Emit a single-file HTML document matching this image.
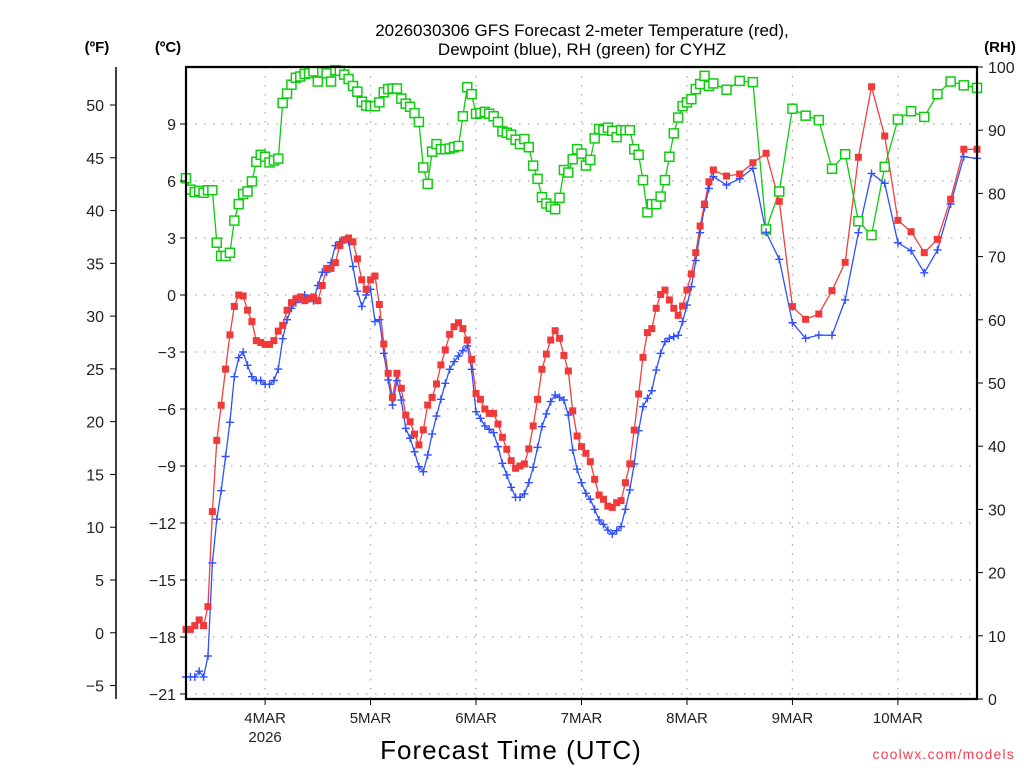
<!DOCTYPE html>
<html><head><meta charset="utf-8"><title>GFS Forecast CYHZ</title>
<style>
html,body{margin:0;padding:0;background:#fff;}
svg{display:block;font-family:"Liberation Sans","DejaVu Sans",sans-serif;}
</style></head>
<body>
<svg id="chart" width="1024" height="768" viewBox="0 0 1024 768" xmlns="http://www.w3.org/2000/svg">
<g id="grid"></g>
<g id="series"></g>
<g id="axes"></g>
<text x="582" y="36" text-anchor="middle" font-size="17" fill="#000">2026030306 GFS Forecast 2-meter Temperature (red),</text>
<text x="582" y="55" text-anchor="middle" font-size="17" fill="#000">Dewpoint (blue), RH (green) for CYHZ</text>
<text x="97" y="52" text-anchor="middle" font-size="15" font-weight="bold">(ºF)</text>
<text x="168" y="52" text-anchor="middle" font-size="15" font-weight="bold">(ºC)</text>
<text x="1000" y="52" text-anchor="middle" font-size="15" font-weight="bold">(RH)</text>
<text x="511" y="759" text-anchor="middle" font-size="26" letter-spacing="1">Forecast Time (UTC)</text>
<text x="1015" y="759" text-anchor="end" font-size="14" fill="#f04050" letter-spacing="1.2">coolwx.com/models</text>
</svg>
<script>
// hours since 2026-03-03 06Z
const hours = [0,1,2,3,4,5,6,7,8,9,10,11,12,13,14,15,16,17,18,19,20,21,22,23,24,25,26,27,28,29,30,31,32,33,34,35,36,37,38,39,40,41,42,43,44,45,46,47,48,49,50,51,52,53,54,55,56,57,58,59,60,61,62,63,64,65,66,67,68,69,70,71,72,73,74,75,76,77,78,79,80,81,82,83,84,85,86,87,88,89,90,91,92,93,94,95,96,97,98,99,100,101,102,103,104,105,106,107,108,109,110,111,112,113,114,115,116,117,118,119,120,123,126,129,132,135,138,141,144,147,150,153,156,159,162,165,168,171,174,177,180];
const tempC = [-17.6,-17.6,-17.4,-17.1,-17.4,-16.4,-11.4,-7.65,-5.8,-3.9,-2.1,-0.6,0.0,-0.05,-0.8,-1.4,-2.4,-2.5,-2.6,-2.6,-2.4,-1.9,-1.6,-0.8,-0.4,-0.2,-0.1,-0.3,-0.2,-0.1,-0.3,0.5,1.4,1.4,1.7,2.6,2.9,3.0,2.8,1.9,0.8,0.3,0.8,1.0,-0.5,
-2.58,-4.12,-5.39,-4.12,-4.91,-6.32,-6.67,-7.32,-7.89,-7.1,-5.79,-5.39,-4.68,-3.68,-2.89,-2.07,-1.67,-1.46,-1.77,-2.37,-3.39,-5.18,-5.49,-6.0,-6.23,-6.23,-6.79,-7.49,-8.12,-8.72,-9.12,-9.0,-8.89,-8.1,-6.89,-5.49,-3.91,-3.11,-2.37,-1.88,-2.28,-3.18,-4.0,-6.1,-7.42,-7.98,-8.33,-8.77,
-9.70,-10.53,-10.75,-11.11,-11.18,-10.93,-10.82,-9.88,-8.89,-7.11,-5.21,-3.28,-1.98,-1.77,-0.70,0.03,0.26,-0.26,-0.70,-1.07,-0.58,0.26,1.11,2.23,3.63,4.79,5.96,6.58,
6.26,6.37,6.96,7.46,4.93,-0.61,-1.28,-1.0,0.23,1.72,7.25,10.96,8.37,3.93,3.33,2.23,2.93,5.04,7.67,7.67];
const dewC = [-20.1,-20.1,-20.1,-19.8,-20.1,-19.0,-14.1,-11.8,-10.3,-8.5,-6.7,-4.3,-3.3,-3.0,-3.7,-4.3,-4.5,-4.5,-4.7,-4.7,-4.5,-3.9,-2.3,-1.3,-0.7,-0.4,-0.2,0.0,-0.2,-0.3,0.5,1.2,1.2,1.7,2.6,2.8,2.9,2.8,1.5,0.2,-0.6,0.0,0.3,-1.4,-1.3,
-3.07,-4.47,-5.79,-4.51,-5.53,-7.02,-7.54,-8.25,-9.04,-9.3,-8.42,-7.32,-6.37,-5.49,-4.65,-3.91,-3.51,-3.21,-2.93,-2.68,-3.91,-6.14,-6.49,-6.89,-7.07,-7.25,-7.98,-8.86,-9.47,-10.12,-10.65,-10.65,-10.47,-9.88,-9.07,-8.02,-6.93,-6.26,-5.61,-5.26,-5.39,-5.53,-6.32,-8.16,-9.17,-9.88,-10.44,-10.75,
-11.28,-11.84,-12.07,-12.37,-12.58,-12.40,-12.19,-11.28,-10.26,-8.89,-7.14,-5.88,-5.44,-5.04,-3.95,-3.07,-2.46,-2.28,-2.19,-2.12,-1.40,-0.53,0.44,1.81,3.28,4.61,5.61,6.23,
5.79,6.12,6.67,3.30,1.88,-1.46,-2.28,-2.11,-2.12,-0.26,3.28,6.40,5.88,2.75,2.33,1.17,2.37,4.79,7.28,7.19];
const rhPct = [82.4,80.6,80.2,80.4,80.1,80.5,80.5,72.2,70.1,70.1,70.6,75.7,78.3,79.9,80.3,81.9,85.0,86.1,85.8,84.9,85.2,85.5,94.3,95.8,97.2,98.3,98.5,98.9,99.0,99.3,97.7,99.2,99.0,97.7,99.5,99.4,98.8,98.1,97.0,96.1,94.5,93.9,93.8,
93.8,94.4,96.0,96.5,96.6,96.6,95.0,94.2,93.7,92.7,91.3,84.1,81.5,86.6,87.8,87.0,87.0,87.1,87.3,87.5,92.2,96.8,95.7,92.6,92.7,92.9,92.6,92.2,91.3,89.8,89.6,89.3,88.5,87.8,88.6,87.3,84.4,82.3,79.4,78.4,77.9,77.5,79.3,83.7,83.3,85.4,87.0,86.3,84.4,85.3,
88.7,90.2,90.0,90.4,89.9,88.9,90.0,90.0,90.0,87.0,86.1,82.1,77.0,78.3,78.3,79.5,82.1,85.8,89.5,92.0,93.8,94.4,94.9,96.5,97.3,98.6,97.0,97.4,
96.4,97.8,97.6,74.3,80.3,93.4,92.3,91.6,83.9,86.2,75.6,73.4,84.2,91.7,93.0,92.1,95.7,97.7,97.1,96.7];
const celsiusTicks = [9,6,3,0,-3,-6,-9,-12,-15,-18,-21];
const fahrenheitTicks = [50,45,40,35,30,25,20,15,10,5,0,-5];
const rhTicks = [100,90,80,70,60,50,40,30,20,10,0];
const dayHours = [18,42,66,90,114,138,162];
const dayLabels = ["4MAR","5MAR","6MAR","7MAR","8MAR","9MAR","10MAR"];

const L=186,R=977,T=67,B=699,HMAX=180;
const NS="http://www.w3.org/2000/svg";
function xS(h){return L+h*(R-L)/HMAX;}
function yC(c){return 295-19*c;}
function yF(f){return yC((f-32)/1.8);}
function yRH(r){return B-(B-T)*r/100;}
function mk(tag,attrs,parent){const e=document.createElementNS(NS,tag);for(const k in attrs)e.setAttribute(k,attrs[k]);parent.appendChild(e);return e;}
const grid=document.getElementById('grid'),ser=document.getElementById('series'),ax=document.getElementById('axes');

// grid
celsiusTicks.forEach(c=>{const l=mk('line',{x1:L,x2:R,y1:yC(c),y2:yC(c),stroke:'#aaa','stroke-width':1.3,'stroke-dasharray':'1.5 7.5'},grid);

});
dayHours.forEach(h=>{const l=mk('line',{x1:xS(h),x2:xS(h),y1:T,y2:B,stroke:'#aaa','stroke-width':1.3,'stroke-dasharray':'1.5 7.5'},grid);

});

// series
function line(vals,yf,color,name){const p=hours.map((h,i)=>xS(h).toFixed(1)+','+yf(vals[i]).toFixed(1)).join(' ');
const pl=mk('polyline',{points:p,fill:'none',stroke:color,'stroke-width':1.3},ser);

}
line(rhPct,yRH,'#10cc10','rh-line');
line(dewC,yC,'#3050ff','dewpoint-line');
line(tempC,yC,'#f04040','temperature-line');
hours.forEach((h,i)=>{const x=xS(h),y=yRH(rhPct[i]);
const r=mk('rect',{x:x-4.5,y:y-4.5,width:9,height:9,fill:'#fff',stroke:'#10cc10','stroke-width':1.5},ser);

});
hours.forEach((h,i)=>{const x=xS(h),y=yC(dewC[i]);
const p=mk('path',{d:`M${x-4} ${y}H${x+4}M${x} ${y-4}V${y+4}`,stroke:'#3050ff','stroke-width':1.4,fill:'none'},ser);

});
hours.forEach((h,i)=>{const x=xS(h),y=yC(tempC[i]);
const r=mk('rect',{x:x-3.5,y:y-3.5,width:7,height:7,fill:'#f03a3a'},ser);

});

// frame
const fr=mk('path',{d:`M${L} ${T}H${R}V${B}H${L}Z`,fill:'none',stroke:'#000','stroke-width':2.2},ax);


// celsius axis
celsiusTicks.forEach(c=>{const y=yC(c);
mk('line',{x1:180,x2:L,y1:y,y2:y,stroke:'#000','stroke-width':1},ax);
const t=mk('text',{x:176,y:y+6,'text-anchor':'end','font-size':16,fill:'#222'},ax);t.textContent=(c<0?'\u2212'+(-c):c);

});
// fahrenheit axis
const fl=mk('line',{x1:116,x2:116,y1:T,y2:B,stroke:'#000','stroke-width':1.5},ax);


fahrenheitTicks.forEach(f=>{const y=yF(f);
mk('line',{x1:110,x2:116,y1:y,y2:y,stroke:'#000','stroke-width':1},ax);
const t=mk('text',{x:104,y:y+6,'text-anchor':'end','font-size':16,fill:'#222'},ax);t.textContent=(f<0?'\u2212'+(-f):f);

});
// rh axis
rhTicks.forEach(r=>{const y=yRH(r);
mk('line',{x1:R,x2:R+6,y1:y,y2:y,stroke:'#000','stroke-width':1},ax);
const t=mk('text',{x:988,y:y+6,'text-anchor':'start','font-size':16,fill:'#222'},ax);t.textContent=r;

});
// x axis
dayHours.forEach((h,i)=>{const x=xS(h);
mk('line',{x1:x,x2:x,y1:B,y2:B+6,stroke:'#000','stroke-width':1},ax);
const t=mk('text',{x:x,y:723,'text-anchor':'middle','font-size':15,fill:'#222'},ax);t.textContent=dayLabels[i];

});
const yr=mk('text',{x:xS(dayHours[0]),y:742,'text-anchor':'middle','font-size':15,fill:'#222'},ax);yr.textContent='2026';


</script>
</body></html>
